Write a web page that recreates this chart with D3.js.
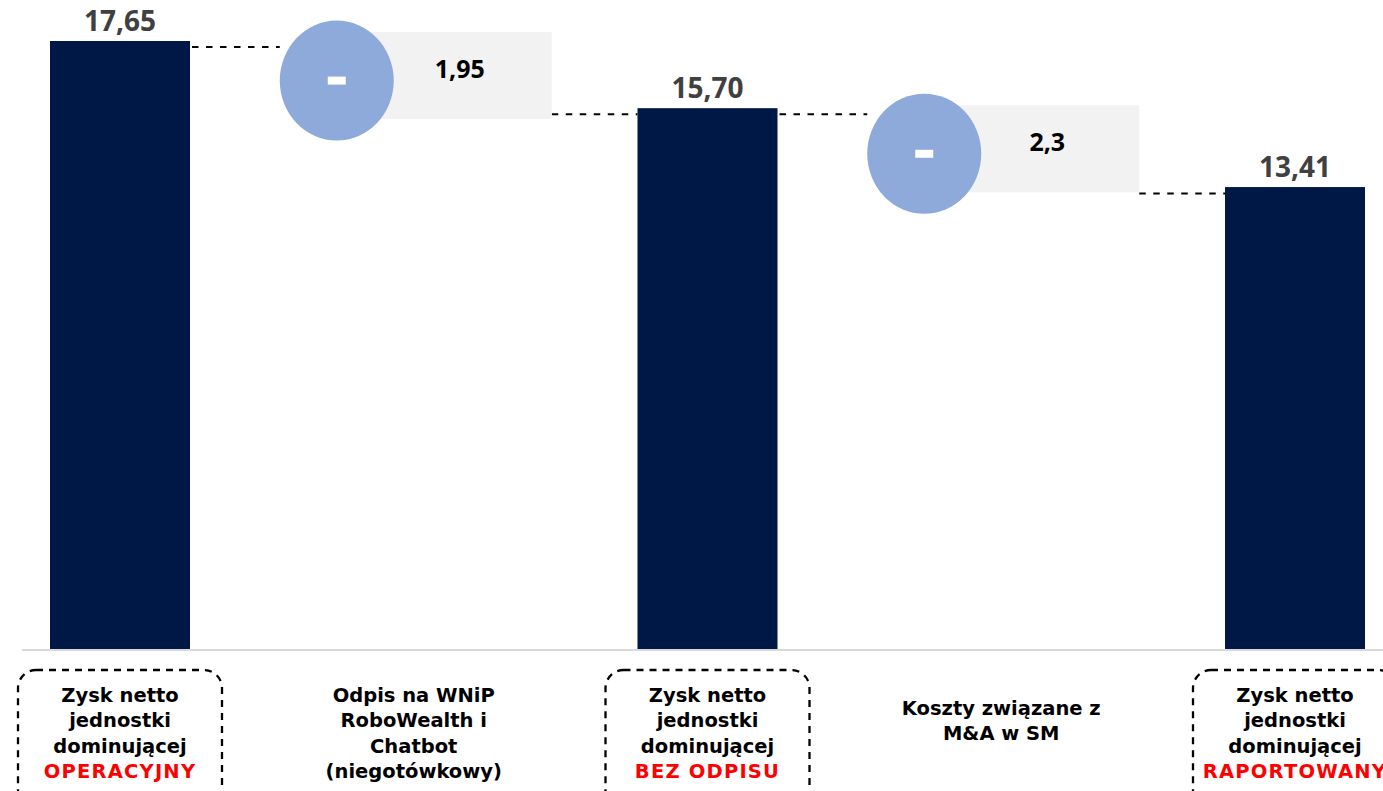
<!DOCTYPE html>
<html>
<head>
<meta charset="utf-8">
<script src="https://cdn.jsdelivr.net/npm/d3@7"></script>
<style>
  html, body { margin: 0; padding: 0; background: #fff; overflow: hidden; }
  svg { display: block; }
</style>
</head>
<body>
<svg id="chart" width="1383" height="791"></svg>
<script>
// ---- data ----
const categories = ["OPERACYJNY", "Odpis", "BEZ ODPISU", "Koszty M&A", "RAPORTOWANY"];
const values = [17.65, -1.95, 15.70, -2.3, 13.41];
const types = ["total", "delta", "total", "delta", "total"];
const valueLabels = ["17,65", "1,95", "15,70", "2,3", "13,41"];
const labelLines = [
  ["Zysk netto", "jednostki", "dominującej"],
  ["Odpis na WNiP", "RoboWealth i", "Chatbot", "(niegotówkowy)"],
  ["Zysk netto", "jednostki", "dominującej"],
  ["Koszty związane z", "M&A w SM"],
  ["Zysk netto", "jednostki", "dominującej"]
];
const labelHighlights = ["OPERACYJNY", null, "BEZ ODPISU", null, "RAPORTOWANY"];

// ---- layout ----
const svg = d3.select("#chart");
const baseY = 649, topY = 41;
const barW = 140;

const x = d3.scalePoint().domain(categories).range([120, 1295]);
const y = d3.scaleLinear().domain([0, d3.max(values)]).range([baseY, topY]);

// running totals
let prev = 0;
const rows = categories.map((c, i) => {
  let start, end;
  if (types[i] === "total") { start = 0; end = values[i]; }
  else { start = prev; end = prev + values[i]; }
  prev = end;
  return { cat: c, i, type: types[i], start, end, label: valueLabels[i] };
});

const numFont = "'Open Sans', sans-serif";
const catFont = "'DejaVu Sans', sans-serif";

// baseline
svg.append("line")
  .attr("x1", 22).attr("x2", 1383)
  .attr("y1", baseY + 1).attr("y2", baseY + 1)
  .attr("stroke", "#D9D9D9").attr("stroke-width", 2);

// dashed connectors
const conn = [];
rows.forEach((r, i) => {
  if (i === rows.length - 1) return;
  const nxt = rows[i + 1];
  if (r.type === "total") {
    conn.push({ x1: x(r.cat) + barW / 2 - 12, x2: x(nxt.cat) - 77 - 57, v: r.end });
  } else {
    conn.push({ x1: x(r.cat) + 138, x2: x(nxt.cat) - barW / 2, v: r.end });
  }
});
svg.append("g").selectAll("line").data(conn).join("line")
  .attr("x1", d => d.x1).attr("x2", d => d.x2)
  .attr("y1", d => y(d.v) + 6).attr("y2", d => y(d.v) + 6)
  .attr("stroke", "#000").attr("stroke-width", 2)
  .attr("stroke-dasharray", "6.5,7.5");

// total bars
const totals = rows.filter(r => r.type === "total");
svg.append("g").selectAll("rect").data(totals).join("rect")
  .attr("x", d => x(d.cat) - barW / 2)
  .attr("width", barW)
  .attr("y", d => y(d.end))
  .attr("height", d => y(0) - y(d.end))
  .attr("fill", "#001845");

svg.append("g").selectAll("text").data(totals).join("text")
  .attr("x", d => x(d.cat))
  .attr("y", d => y(d.end) - 10)
  .attr("text-anchor", "middle")
  .attr("font-family", numFont).attr("font-weight", 700)
  .attr("font-size", 28).attr("fill", "#404040")
  .text(d => d.label);

// delta decorations
const deltas = rows.filter(r => r.type === "delta");
const dg = svg.append("g").selectAll("g").data(deltas).join("g");
dg.append("rect")
  .attr("x", d => x(d.cat) - 60)
  .attr("width", 198)
  .attr("y", d => (y(d.start) + y(d.end)) / 2 + 1 - 43.5)
  .attr("height", 87)
  .attr("fill", "#F2F2F2");
dg.append("ellipse")
  .attr("cx", d => x(d.cat) - 77)
  .attr("cy", d => (y(d.start) + y(d.end)) / 2 + 6)
  .attr("rx", 57).attr("ry", 60)
  .attr("fill", "#8EAADB");
dg.append("rect")
  .attr("x", d => x(d.cat) - 77 - 9)
  .attr("y", d => (y(d.start) + y(d.end)) / 2 + 6 - 4)
  .attr("width", 18).attr("height", 8)
  .attr("fill", "#fff");
dg.append("text")
  .attr("x", d => x(d.cat) + 46)
  .attr("y", d => (y(d.start) + y(d.end)) / 2 + 3)
  .attr("text-anchor", "middle")
  .attr("font-family", numFont).attr("font-weight", 700)
  .attr("font-size", 25).attr("fill", "#000")
  .text(d => d.label);

// category labels
const lg = svg.append("g").selectAll("g").data(rows).join("g");
lg.filter(d => labelHighlights[d.i])
  .append("rect")
  .attr("x", d => x(d.cat) - 102)
  .attr("y", 670)
  .attr("width", 204).attr("height", 140)
  .attr("rx", 18).attr("ry", 18)
  .attr("fill", "none").attr("stroke", "#000")
  .attr("stroke-width", 2.3).attr("stroke-dasharray", "7,6");

lg.each(function(d) {
  const g = d3.select(this);
  const lines = labelLines[d.i].map(t => ({ t, red: false }));
  if (labelHighlights[d.i]) lines.push({ t: labelHighlights[d.i], red: true });
  const n = lines.length;
  const first = 702 + (4 - n) * 6.5;
  const cx = x(d.cat);
  g.selectAll("text").data(lines).join("text")
    .attr("x", cx)
    .attr("y", (l, k) => first + k * 25.3)
    .attr("text-anchor", "middle")
    .attr("font-family", catFont).attr("font-weight", 700)
    .attr("font-size", 19.5)
    .attr("letter-spacing", l => l.red ? 1.2 : 0)
    .attr("fill", l => l.red ? "#FF0000" : "#000")
    .text(l => l.t);
});
</script>
</body>
</html>
